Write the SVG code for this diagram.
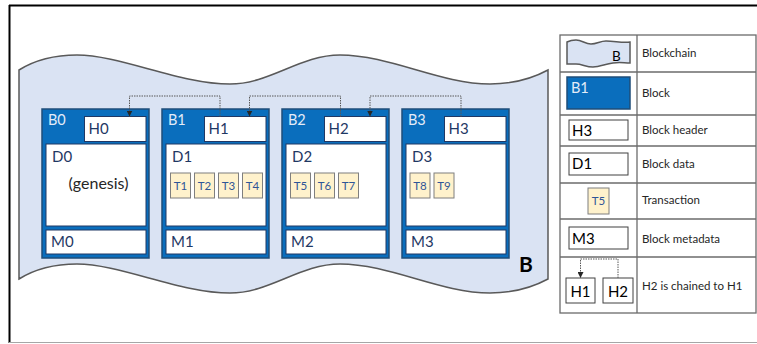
<svg xmlns="http://www.w3.org/2000/svg" width="757" height="344" viewBox="0 0 757 344">
<style>
text{font-family:Lato,"Liberation Sans",sans-serif}
.wave{fill:#dae3f3;stroke:#595959;stroke-width:1.5}
.blk{fill:#0a6ebd;stroke:#1f4e79;stroke-width:1.5}
.box{fill:#fff;stroke:#203864;stroke-width:1}
.lbox{fill:#fff;stroke:#404040;stroke-width:1}
.tx{fill:#fff2cc;stroke:#7f7f7f;stroke-width:1}
.bl{fill:#e3ecf8;font-size:14.5px}
.hl{fill:#1f3864;font-size:15px}
.tl{fill:#2f5597;font-size:11.5px;text-anchor:middle}
.lg{fill:#262626;font-size:11.5px}
.blk-t{fill:#000;font-size:15px}
.con{fill:none;stroke:#595959;stroke-width:1;stroke-dasharray:1.5 1}
.grid{stroke:#6b6b6b;stroke-width:1.3;fill:none}
</style>
<defs>
<marker id="arr" markerUnits="userSpaceOnUse" markerWidth="6" markerHeight="6" refX="6" refY="3" orient="auto">
<path d="M0,0 L6,3 L0,6 Z" fill="#262626"/>
</marker>
</defs>
<rect width="757" height="344" fill="#fff"/>
<g id="frame">
<line x1="9" y1="5.5" x2="757" y2="5.5" stroke="#000" stroke-width="2"/>
<line x1="9.5" y1="5" x2="9.5" y2="343" stroke="#000" stroke-width="2"/>
<line x1="9" y1="342.5" x2="757" y2="342.5" stroke="#a6a6a6" stroke-width="1"/>
</g>
<g id="blockchain">
<path class="wave" d="M19,70 C35,60 55,55 77,55 C120,55 180,84 230,84 C270,84 300,55 340,55 C390,55 440,84 490,84 C515,84 535,77 548,70 L548,279 C535,286 515,293 490,293 C440,293 390,264 340,264 C300,264 270,293 230,293 C180,293 120,264 77,264 C55,264 35,269 19,279 Z"/>
<text x="519" y="272" font-size="21" font-weight="bold" fill="#000">B</text>
</g>
<g id="block-B0">
<rect class="blk" x="42" y="109" width="107" height="149"/>
<rect class="box" x="84.5" y="116.5" width="61.5" height="25"/>
<rect class="box" x="46" y="144" width="100" height="82"/>
<rect class="box" x="46" y="230" width="100" height="24"/>
<text class="bl" x="48" y="125">B0</text>
<text class="hl" x="88.5" y="134">H0</text>
<text class="hl" x="52" y="162">D0</text>
<text x="98.5" y="189" font-size="16" fill="#262626" text-anchor="middle">(genesis)</text>
<text class="hl" x="51" y="247">M0</text>
</g>
<g id="block-B1">
<rect class="blk" x="162" y="109" width="107" height="149"/>
<rect class="box" x="204.5" y="116.5" width="61.5" height="25"/>
<rect class="box" x="166" y="144" width="100" height="82"/>
<rect class="box" x="166" y="230" width="100" height="24"/>
<text class="bl" x="168" y="125">B1</text>
<text class="hl" x="208.5" y="134">H1</text>
<text class="hl" x="172" y="162">D1</text>
<text class="hl" x="171" y="247">M1</text>
<rect class="tx" x="170.5" y="173" width="20" height="25"/>
<rect class="tx" x="194.5" y="173" width="20" height="25"/>
<rect class="tx" x="218.5" y="173" width="20" height="25"/>
<rect class="tx" x="242.5" y="173" width="20" height="25"/>
<text class="tl" x="180.5" y="189.5">T1</text>
<text class="tl" x="204.5" y="189.5">T2</text>
<text class="tl" x="228.5" y="189.5">T3</text>
<text class="tl" x="252.5" y="189.5">T4</text>
</g>
<g id="block-B2">
<rect class="blk" x="282" y="109" width="107" height="149"/>
<rect class="box" x="324.5" y="116.5" width="61.5" height="25"/>
<rect class="box" x="286" y="144" width="100" height="82"/>
<rect class="box" x="286" y="230" width="100" height="24"/>
<text class="bl" x="288" y="125">B2</text>
<text class="hl" x="328.5" y="134">H2</text>
<text class="hl" x="292" y="162">D2</text>
<text class="hl" x="291" y="247">M2</text>
<rect class="tx" x="290.5" y="173" width="20" height="25"/>
<rect class="tx" x="314.5" y="173" width="20" height="25"/>
<rect class="tx" x="338.5" y="173" width="20" height="25"/>
<text class="tl" x="300.5" y="189.5">T5</text>
<text class="tl" x="324.5" y="189.5">T6</text>
<text class="tl" x="348.5" y="189.5">T7</text>
</g>
<g id="block-B3">
<rect class="blk" x="402" y="109" width="107" height="149"/>
<rect class="box" x="444.5" y="116.5" width="61.5" height="25"/>
<rect class="box" x="406" y="144" width="100" height="82"/>
<rect class="box" x="406" y="230" width="100" height="24"/>
<text class="bl" x="408" y="125">B3</text>
<text class="hl" x="448.5" y="134">H3</text>
<text class="hl" x="412" y="162">D3</text>
<text class="hl" x="411" y="247">M3</text>
<rect class="tx" x="410" y="173" width="20" height="25"/>
<rect class="tx" x="434" y="173" width="20" height="25"/>
<text class="tl" x="420" y="189.5">T8</text>
<text class="tl" x="444" y="189.5">T9</text>
</g>
<g id="connectors">
<path class="con" d="M220,116.5 V96 H129.5 V116.5" marker-end="url(#arr)"/>
<path class="con" d="M340.5,116.5 V96 H249.5 V116.5" marker-end="url(#arr)"/>
<path class="con" d="M461,116.5 V96 H370 V116.5" marker-end="url(#arr)"/>
</g>
<g id="legend">
<rect class="grid" x="560" y="35" width="196" height="278"/>
<line class="grid" x1="637" y1="35" x2="637" y2="313"/>
<line class="grid" x1="560" y1="72" x2="756" y2="72"/>
<line class="grid" x1="560" y1="115" x2="756" y2="115"/>
<line class="grid" x1="560" y1="146" x2="756" y2="146"/>
<line class="grid" x1="560" y1="183" x2="756" y2="183"/>
<line class="grid" x1="560" y1="219" x2="756" y2="219"/>
<line class="grid" x1="560" y1="257" x2="756" y2="257"/>
<path class="wave" stroke-width="1" d="M567,42 C569,41 572,40 576,40 C582,40 585,44 591,44 C597,44 600,41 606,41 C615,41 622,43 630,42 L630,63 C624,63 620,62 613,63 C605,64 600,67 593,67 C586,67 582,64 576,64 C572,64 569,64 567,64 Z"/>
<text x="612" y="61" font-size="13.5" fill="#000">B</text>
<rect class="blk" x="567" y="77" width="63" height="32"/>
<text class="bl" x="571" y="93">B1</text>
<rect class="lbox" x="569" y="120" width="59" height="20"/>
<text class="blk-t" x="572" y="136">H3</text>
<rect class="lbox" x="569" y="153" width="59" height="22"/>
<text class="blk-t" x="572" y="169">D1</text>
<rect class="tx" x="588" y="188" width="21" height="26"/>
<text class="tl" x="598.5" y="205">T5</text>
<rect class="lbox" x="569" y="227" width="59" height="22"/>
<text class="blk-t" x="572" y="244">M3</text>
<rect class="lbox" x="566" y="278" width="29" height="25"/>
<rect class="lbox" x="603" y="278" width="30" height="25"/>
<text class="blk-t" x="580.5" y="296.5" font-size="17" text-anchor="middle">H1</text>
<text class="blk-t" x="618" y="296.5" font-size="17" text-anchor="middle">H2</text>
<path class="con" d="M618,278 V259 H580.5 V278" marker-end="url(#arr)"/>
<text class="lg" x="642" y="57">Blockchain</text>
<text class="lg" x="642" y="97">Block</text>
<text class="lg" x="642" y="134">Block header</text>
<text class="lg" x="642" y="168">Block data</text>
<text class="lg" x="642" y="204">Transaction</text>
<text class="lg" x="642" y="243">Block metadata</text>
<text class="lg" x="642" y="290">H2 is chained to H1</text>
</g>
</svg>
